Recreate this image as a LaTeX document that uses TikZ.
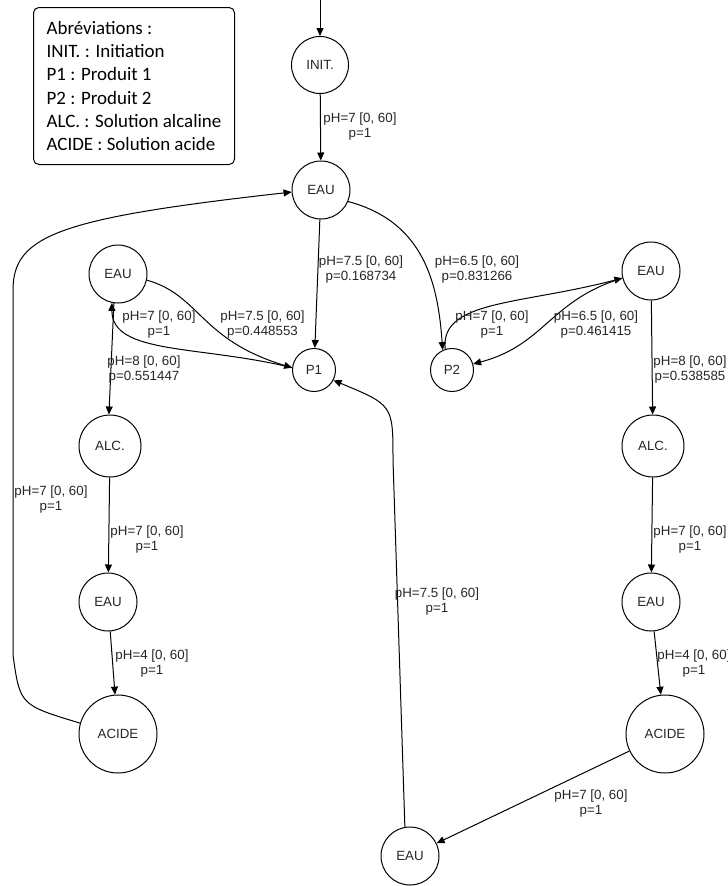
\documentclass[tikz,border=0pt]{standalone}
\usepackage{fontspec}
\setmainfont{Liberation Sans}
\newfontfamily\legendfont{Carlito}
\usetikzlibrary{arrows.meta}

\begin{document}
\begin{tikzpicture}[
    x=0.75pt, y=-0.75pt,
    >={Triangle[length=6pt, width=5.25pt]},
    state/.style={circle, draw, line width=0.75pt, inner sep=0pt,
                  minimum size=43.5pt, text=black!85,
                  font=\fontsize{10}{12}\selectfont},
    trans/.style={->, line width=0.75pt},
    prob/.style={align=center, inner sep=0pt, text=black!85,
                 font=\fontsize{10}{11.25}\selectfont},
    legend/.style={draw, line width=0.75pt, rounded corners=4pt, align=left,
                   minimum width=150.75pt, minimum height=117.75pt,
                   font=\legendfont\fontsize{14.2}{17.5}\selectfont},
]
\useasboundingbox (0,0) rectangle (728,886);

% ═══════════════════════════════════════════════════════════════════════════
%  Legend
% ═══════════════════════════════════════════════════════════════════════════
\node[legend, anchor=north west] (abrev) at (33,7)
    {Abréviations :\\INIT. : Initiation\\P1 : Produit 1\\P2 : Produit 2\\
     ALC. : Solution alcaline\\ACIDE : Solution acide};

% ═══════════════════════════════════════════════════════════════════════════
%  States
% ═══════════════════════════════════════════════════════════════════════════
\node[state, minimum size=42.75pt] (init) at (320,65) {INIT.};
\node[state] (eauT) at (321,190) {EAU};
\node[state, minimum size=32.25pt] (p1) at (314,370) {P1};
\node[state, minimum size=32.25pt] (p2) at (452,370) {P2};

% left branch
\node[state] (eauL) at (118,274) {EAU};
\node[state, minimum size=46.5pt] (alcL) at (110,446) {ALC.};
\node[state] (eauL2) at (108,602) {EAU};
\node[state, minimum size=58.5pt] (acideL) at (118,734) {ACIDE};

% right branch
\node[state] (eauR) at (651,271) {EAU};
\node[state, minimum size=46.5pt] (alcR) at (653,446) {ALC.};
\node[state] (eauR2) at (651,602) {EAU};
\node[state, minimum size=58.5pt] (acideR) at (665,734) {ACIDE};
\node[state] (eauB) at (410,856) {EAU};

% ═══════════════════════════════════════════════════════════════════════════
%  Transitions
% ═══════════════════════════════════════════════════════════════════════════
\coordinate (start) at (320,0);
\draw[trans] (start) -- (init);
\draw[trans] (init) -- (eauT);
\node[prob] (lInit) at (360,126.5) {pH=7 [0, 60]\\p=1};

\draw[trans] (eauT) -- (p1);
\node[prob] (lTopP1) at (361,270) {pH=7.5 [0, 60]\\p=0.168734};
\draw[trans] (eauT.-23) .. controls (425,222) and (438,285) .. (p2.115);
\node[prob] (lTopP2) at (477,270) {pH=6.5 [0, 60]\\p=0.831266};

% left loop
\draw[trans] (eauL.-12) .. controls (200,295) and (200,340) .. (p1.174);
\node[prob] (lLP1) at (262.5,325) {pH=7.5 [0, 60]\\p=0.448553};
\draw[trans] (p1.174) .. controls (200,345) and (112,355) .. (eauL.-102);
\node[prob] (lP1L) at (159,325) {pH=7 [0, 60]\\p=1};
\draw[trans] (eauL.-98) -- (alcL.92);
\node[prob] (lLAlc) at (144,369.5) {pH=8 [0, 60]\\p=0.551447};
\draw[trans] (alcL) -- (eauL2);
\node[prob] (lAlcL) at (147,540) {pH=7 [0, 60]\\p=1};
\draw[trans] (eauL2) -- (acideL);
\node[prob] (lEauLAcide) at (152,664) {pH=4 [0, 60]\\p=1};
\coordinate (sideLo) at (13,655);
\coordinate (sideHi) at (13,290);
\draw[trans] (acideL.164) .. controls (20,705) .. (sideLo) -- (sideHi)
    .. controls (13,235) and (60,218) .. (eauT.184);
\node[prob] (lAcideTop) at (51,500) {pH=7 [0, 60]\\p=1};

% right loop
\draw[trans] (p2.108) .. controls (440,300) and (520,305) .. (eauR.194);
\node[prob] (lP2R) at (492,325) {pH=7 [0, 60]\\p=1};
\draw[trans] (eauR.194) .. controls (550,300) and (545,345) .. (p2.16);
\node[prob] (lRP2) at (596,325) {pH=6.5 [0, 60]\\p=0.461415};
\draw[trans] (eauR) -- (alcR);
\node[prob] (lRAlc) at (690,370) {pH=8 [0, 60]\\p=0.538585};
\draw[trans] (alcR) -- (eauR2);
\node[prob] (lAlcR) at (690,540) {pH=7 [0, 60]\\p=1};
\draw[trans] (eauR2) -- (acideR);
\node[prob] (lEauRAcide) at (694,664) {pH=4 [0, 60]\\p=1};
\draw[trans] (acideR) -- (eauB);
\node[prob] (lAcideEauB) at (591,804) {pH=7 [0, 60]\\p=1};

% back to P1
\coordinate (bend) at (393,460);
\draw[trans] (eauB.100) -- (bend) .. controls (393,405) .. (p1.-28);
\node[prob] (lEauBP1) at (437,602) {pH=7.5 [0, 60]\\p=1};

\end{tikzpicture}
\end{document}
